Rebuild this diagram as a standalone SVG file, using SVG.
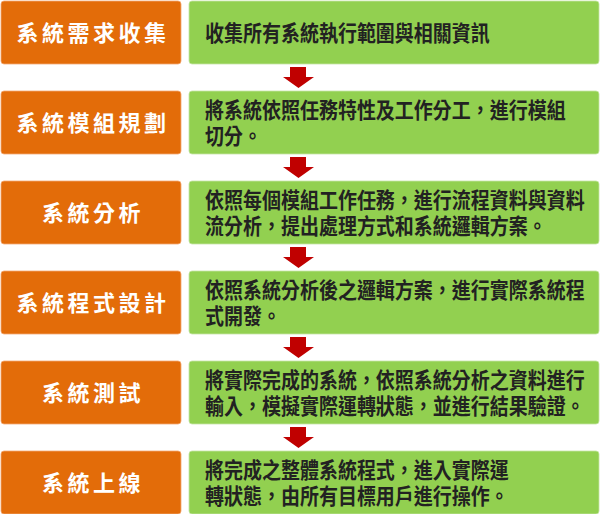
<svg xmlns="http://www.w3.org/2000/svg" width="600" height="514" viewBox="0 0 600 514">
<defs>
<style>
.step{fill:#E36C09;stroke:#F2A873;stroke-width:0.8}
.desc{fill:#92D050;stroke:#C5E5A5;stroke-width:0.8}
.st{font-family:"Liberation Sans","Noto Sans CJK TC","Noto Sans CJK SC",sans-serif;font-weight:bold;font-size:22px;fill:#FFFFFF;text-anchor:middle;letter-spacing:3.5px}
.dt{font-family:"Liberation Sans","Noto Sans CJK TC","Noto Sans CJK SC",sans-serif;font-weight:bold;font-size:19px;fill:#222222}
.arr{fill:#C00000}
</style>
<path id="ar" d="M290,0 H306 V10 H314 L298.5,21 L283,10 H290 Z"/>
</defs>
<rect width="600" height="514" fill="#FFFFFF"/>
<g id="n1">
<rect class="step" x="1" y="1" width="180" height="63" rx="3"/>
<text class="st" x="93" y="41">系統需求收集</text>
<rect class="desc" x="189" y="1" width="410" height="63" rx="3"/>
<text class="dt" transform="translate(205,41) scale(1,1.12)">收集所有系統執行範圍與相關資訊</text>
</g>
<g id="n2">
<rect class="step" x="1" y="91" width="180" height="63" rx="3"/>
<text class="st" x="93" y="131">系統模組規劃</text>
<rect class="desc" x="189" y="91" width="410" height="63" rx="3"/>
<text class="dt" transform="translate(205,118) scale(1,1.12)">將系統依照任務特性及工作分工，進行模組</text>
<text class="dt" transform="translate(205,144) scale(1,1.12)">切分。</text>
</g>
<g id="n3">
<rect class="step" x="1" y="181" width="180" height="63" rx="3"/>
<text class="st" x="93" y="221">系統分析</text>
<rect class="desc" x="189" y="181" width="410" height="63" rx="3"/>
<text class="dt" transform="translate(205,208) scale(1,1.12)">依照每個模組工作任務，進行流程資料與資料</text>
<text class="dt" transform="translate(205,234) scale(1,1.12)">流分析，提出處理方式和系統邏輯方案。</text>
</g>
<g id="n4">
<rect class="step" x="1" y="271" width="180" height="63" rx="3"/>
<text class="st" x="93" y="311">系統程式設計</text>
<rect class="desc" x="189" y="271" width="410" height="63" rx="3"/>
<text class="dt" transform="translate(205,298) scale(1,1.12)">依照系統分析後之邏輯方案，進行實際系統程</text>
<text class="dt" transform="translate(205,324) scale(1,1.12)">式開發。</text>
</g>
<g id="n5">
<rect class="step" x="1" y="361" width="180" height="63" rx="3"/>
<text class="st" x="93" y="401">系統測試</text>
<rect class="desc" x="189" y="361" width="410" height="63" rx="3"/>
<text class="dt" transform="translate(205,388) scale(1,1.12)">將實際完成的系統，依照系統分析之資料進行</text>
<text class="dt" transform="translate(205,414) scale(1,1.12)">輸入，模擬實際運轉狀態，並進行結果驗證。</text>
</g>
<g id="n6">
<rect class="step" x="1" y="451" width="180" height="63" rx="3"/>
<text class="st" x="93" y="491">系統上線</text>
<rect class="desc" x="189" y="451" width="410" height="63" rx="3"/>
<text class="dt" transform="translate(205,478) scale(1,1.12)">將完成之整體系統程式，進入實際運</text>
<text class="dt" transform="translate(205,504) scale(1,1.12)">轉狀態，由所有目標用戶進行操作。</text>
</g>
<g id="connectors" class="arr">
<use href="#ar" y="67"/>
<use href="#ar" y="157"/>
<use href="#ar" y="247"/>
<use href="#ar" y="337"/>
<use href="#ar" y="427"/>
</g>
</svg>
